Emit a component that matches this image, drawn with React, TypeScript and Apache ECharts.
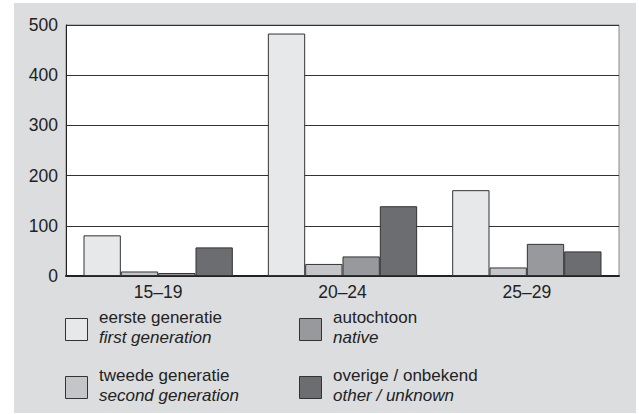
import React, { useEffect, useRef } from "react";
import * as echarts from "echarts";

const categories = ["15–19", "20–24", "25–29"];
const firstGeneration = [81, 483, 171];
const secondGeneration = [9, 24, 17];
const nativeValues = [6, 39, 64];
const otherUnknown = [57, 139, 49];
const seriesNames = ["eerste generatie", "tweede generatie", "autochtoon", "overige / onbekend"];
const seriesNamesEn = ["first generation", "second generation", "native", "other / unknown"];
const colors = ["#e7e8ea", "#c4c5c8", "#98999c", "#6c6d70"];
const yTicks = { min: 0, max: 500, interval: 100 };

const FONT = '"Liberation Sans", Arial, Helvetica, sans-serif';
const FS = 17.5;
const LFS = 17;

export default function App() {
  const ref = useRef<HTMLDivElement>(null);
  useEffect(() => {
    document.body.style.margin = "0";
    const chart = echarts.init(ref.current!, undefined, { renderer: "svg" });
    const values = [firstGeneration, secondGeneration, nativeValues, otherUnknown];
    const legendPos = [
      { x: 65, y: 318 },
      { x: 65, y: 376 },
      { x: 299, y: 318 },
      { x: 299, y: 376 },
    ];
    const legendGraphics: any[] = [];
    seriesNames.forEach((n, i) => {
      const p = legendPos[i];
      legendGraphics.push({
        type: "rect",
        shape: { x: p.x + 0.5, y: p.y + 0.5, width: 22, height: 22 },
        style: { fill: colors[i], stroke: "#333", lineWidth: 1 },
        z: 5,
      });
      legendGraphics.push({
        type: "text",
        x: p.x + 34,
        y: p.y - 1,
        style: {
          text: n,
          font: `${LFS}px ${FONT}`,
          fill: "#222",
          verticalAlign: "middle",
          textVerticalAlign: "middle",
        },
        z: 5,
      });
      legendGraphics.push({
        type: "text",
        x: p.x + 34,
        y: p.y + 19,
        style: {
          text: seriesNamesEn[i],
          font: `italic ${LFS}px ${FONT}`,
          fill: "#222",
          verticalAlign: "middle",
          textVerticalAlign: "middle",
        },
        z: 5,
      });
    });
    chart.setOption({
      animation: false,
      backgroundColor: "#ffffff",
      textStyle: { fontFamily: FONT },
      graphic: [
        {
          type: "rect",
          shape: { x: 14, y: 3, width: 622, height: 410 },
          style: { fill: "#dcdddf" },
          z: -10,
          silent: true,
        },
        ...legendGraphics,
      ],
      grid: {
        left: 66,
        right: 20,
        top: 25,
        bottom: 138,
        show: true,
        backgroundColor: "#ffffff",
        borderColor: "#8a8a8a",
        borderWidth: 1,
      },
      xAxis: {
        type: "category",
        data: categories,
        axisTick: { show: false },
        axisLine: { lineStyle: { color: "#222", width: 2 } },
        axisLabel: { color: "#222", fontSize: FS, fontFamily: FONT, margin: 7 },
      },
      yAxis: {
        type: "value",
        min: yTicks.min,
        max: yTicks.max,
        interval: yTicks.interval,
        axisLine: { show: true, lineStyle: { color: "#222", width: 1 } },
        axisTick: { show: false },
        splitLine: { lineStyle: { color: "#333", width: 1 } },
        axisLabel: {
          color: "#222",
          fontSize: FS,
          fontFamily: FONT,
          margin: 8,
          padding: [5, 0, 0, 0],
        },
      },
      series: values.map((v, i) => ({
        name: seriesNames[i],
        type: "bar",
        data: v,
        barGap: "0%",
        barCategoryGap: "19%",
        itemStyle: { color: colors[i], borderColor: "#333", borderWidth: 1 },
      })),
    });
    return () => chart.dispose();
  }, []);
  return <div ref={ref} style={{ width: 639, height: 414 }} />;
}
